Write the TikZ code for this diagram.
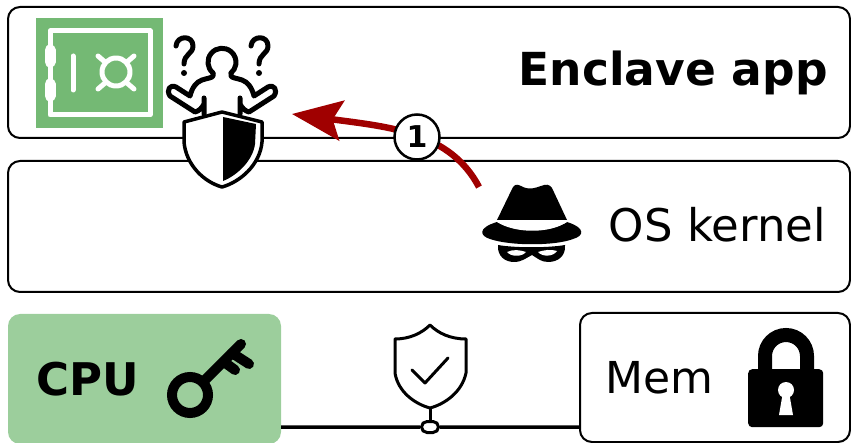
\documentclass[tikz,border=0pt]{standalone}
\usepackage{fontspec}
\setmainfont{DejaVu Sans}
\usetikzlibrary{arrows.meta,positioning,shapes.misc}
\definecolor{safegreen}{RGB}{116,185,116}
\definecolor{cpugreen}{RGB}{156,206,156}
\definecolor{attackred}{RGB}{160,0,0}
\begin{document}
\begin{tikzpicture}[x=1pt,y=-1pt,font=\fontsize{45}{50}\selectfont]
\tikzset{
  box/.style={draw,rounded corners=12pt,line width=2pt,anchor=north west,outer sep=0pt,minimum width=842pt,minimum height=131pt,fill=white},
  icon/.style={line width=5pt,line cap=round,line join=round},
  safeline/.style={draw=white,line width=5pt,line cap=round,line join=round},
  attack/.style={-{Stealth[length=50pt,width=40pt,inset=9pt]},line width=6.5pt,draw=attackred}
}
\useasboundingbox (0,0) rectangle (851,443);
\node(enclave)[box] at (8,7){};
\node(kernel)[box] at (8,161){};
\node(cpu)[box,draw=none,fill=cpugreen,minimum width=273pt,minimum height=130pt] at (8,314){};
\node(mem)[box,minimum width=270pt,minimum height=129pt] at (580,313){};
\node(enclavetext)[left=22pt of enclave.east,inner sep=0pt]{\fontsize{45.5}{50}\selectfont\textbf{Enclave app}};
\node(kerneltext)[left=24pt of kernel.east,inner sep=0pt,yshift=2pt]{OS kernel};
\node(cputext)[inner sep=0pt] at (88,379){\textbf{CPU}};
\node(memtext)[inner sep=0pt] at (659,378){\fontsize{44}{50}\selectfont Mem};
% safe
\node(safe)[fill=safegreen,anchor=north west,minimum width=127pt,minimum height=110pt,inner sep=0pt] at (36,18){};
\draw[safeline] (50,31) rectangle (150,115);
\draw[safeline,line width=11pt] (50,50) -- (50,62);
\draw[safeline,line width=11pt] (50,84) -- (50,96);
\draw[safeline] (73,56) -- (73,90);
\draw[safeline] (116,72) circle (14);
\draw[safeline] (98,56) -- (105,62) (134,56) -- (127,62) (98,89) -- (105,83) (134,89) -- (127,83);
% person with question marks
\foreach \s in {1,-1}{
  \draw[icon,shift={(222,0)},xscale=\s] (-9,73) -- (-9,76) .. controls (-10,78) and (-14,78) .. (-20,80) .. controls (-26,82) and (-30,88) .. (-32,96) -- (-46,87) .. controls (-52,84) and (-56,90) .. (-52,96) -- (-27,112) .. controls (-23,111) and (-20,108) .. (-18,104) -- (-18,98) (-18,104) -- (-18,114);
}
\foreach \qx in {184,259}{
  \draw[icon,shift={(\qx,0)}] (-8,46) .. controls (-7,35) and (9,35) .. (9,46) .. controls (9,54) and (0,54) .. (0,64);
  \fill[shift={(\qx,0)}] (0,73) circle (3);
}
\draw[icon] (213,73) arc (130:410:14);
% shield
\draw[line width=3.5pt,fill=white,line join=round] (222,112) -- (262,122) -- (262,142) .. controls (260,165) and (240,182) .. (222,187) .. controls (204,182) and (186,165) .. (184,142) -- (184,122) -- cycle;
\fill (223,117) -- (256,124) -- (255,144) .. controls (253,160) and (238,175) .. (223,181) -- cycle;
% hat with mask
\coordinate(hatedge) at (479,187);
\fill (513,187) .. controls (516,183) and (519,185) .. (523,187) .. controls (530,190) and (535,188) .. (541,186) .. controls (546,184) and (549,184) .. (552,188) -- (567,220) -- (497,220) -- cycle;
\fill (497,222) .. controls (477,228) and (480,236) .. (490,239) .. controls (510,246) and (555,246) .. (573,239) .. controls (584,236) and (586,228) .. (567,222) .. controls (550,233) and (515,233) .. (497,222);
\draw[white,line width=1.5pt] (497,221) .. controls (515,233) and (550,233) .. (567,221);
\fill (498,245) .. controls (515,248) and (548,248) .. (565,245) .. controls (566,256) and (558,262) .. (548,262) .. controls (541,262) and (537,258) .. (532,255) .. controls (526,258) and (522,262) .. (514,262) .. controls (505,262) and (497,256) .. (498,245);
\fill[white] (507,252) .. controls (513,249) and (520,250) .. (526,252) .. controls (522,257) and (511,257) .. (507,252);
\fill[white] (557,251) .. controls (551,249) and (544,250) .. (538,252) .. controls (542,257) and (553,257) .. (557,251);
% attack arrow
\coordinate(victim) at (292,114);
\draw[attack] (hatedge) .. controls (450,132) and (390,127) .. (victim);
\node(one)[draw,circle,fill=white,line width=2.5pt,minimum size=45pt,inner sep=0pt] at (417,137){\fontsize{30}{30}\selectfont\textbf{1}};
% key
\draw[line width=10pt] (190,395) circle (18);
\draw[line width=10pt,line cap=round] (203,382) -- (241,344);
\draw[line width=10pt,line cap=round] (232,353) -- (249,364) (224,362) -- (235,370);
% lock
\node(lock)[fill,rounded corners=4pt,anchor=north west,minimum width=75pt,minimum height=58pt,inner sep=0pt] at (748,369){};
\draw[line width=14pt] (765,372) -- (765,356) arc (180:360:21) -- (807,372);
\fill[white] (786,390) circle (8);
\fill[white] (783,392) -- (789,392) -- (793,415) -- (779,415) -- cycle;
% checked shield on the bus
\node(port)[draw,rounded rectangle,line width=3pt,minimum width=17pt,minimum height=11pt,inner sep=0pt] at (430,427){};
\coordinate(shieldfoot) at (430,408);
\draw[line width=3pt,line join=round] (430,325) .. controls (422,333) and (410,339) .. (395,339) -- (395,373) .. controls (398,392) and (415,404) .. (430,408) .. controls (445,404) and (462,392) .. (466,373) -- (466,339) .. controls (450,339) and (438,333) .. (430,325) -- cycle;
\draw[line width=3pt,line cap=round,line join=round] (412,370) -- (425,383) -- (448,358);
\draw[line width=3pt] (shieldfoot) -- (port);
\draw[line width=3.5pt] (cpu.east |- port) -- (port) -- (mem.west |- port);
\end{tikzpicture}
\end{document}
